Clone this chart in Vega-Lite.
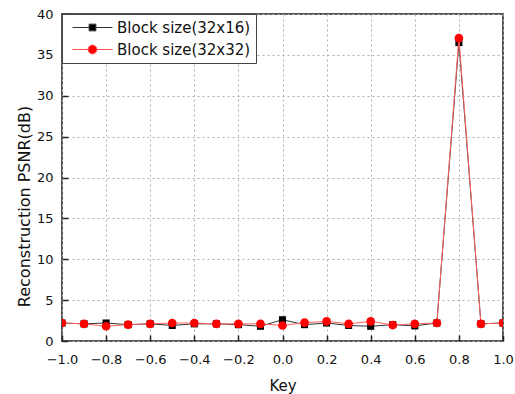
{
  "$schema": "https://vega.github.io/schema/vega-lite/v6.json",
  "autosize": {"type": "none"},
  "padding": {"left": 62, "top": 14, "right": 12, "bottom": 53},
  "width": 441,
  "height": 327,
  "background": "white",
  "config": {
    "font": "DejaVu Sans",
    "view": {"stroke": "#555", "strokeWidth": 2},
    "axis": {
      "grid": true,
      "gridColor": "#b0b0b0",
      "gridDash": [2, 3],
      "gridWidth": 1,
      "domain": false,
      "tickSize": -6,
      "tickColor": "#222",
      "tickWidth": 1.5,
      "labelFont": "DejaVu Sans",
      "labelFontSize": 13,
      "labelColor": "#111",
      "titleFont": "DejaVu Sans",
      "titleFontWeight": "normal",
      "titleColor": "#111"
    },
    "legend": {
      "orient": "none",
      "legendX": 0,
      "legendY": 0,
      "direction": "vertical",
      "padding": 5,
      "strokeColor": "#444",
      "fillColor": "white",
      "labelFontSize": 15,
      "labelFont": "DejaVu Sans",
      "labelColor": "#111",
      "symbolSize": 256,
      "symbolOffset": 17,
      "labelOffset": 16,
      "rowPadding": 5,
      "symbolStrokeWidth": 1
    }
  },
  "data": {
    "values": [
      {"key": -1.0, "psnr": 2.2, "series": "Block size(32x16)"},
      {"key": -0.9, "psnr": 2.1, "series": "Block size(32x16)"},
      {"key": -0.8, "psnr": 2.2, "series": "Block size(32x16)"},
      {"key": -0.7, "psnr": 2.0, "series": "Block size(32x16)"},
      {"key": -0.6, "psnr": 2.1, "series": "Block size(32x16)"},
      {"key": -0.5, "psnr": 1.9, "series": "Block size(32x16)"},
      {"key": -0.4, "psnr": 2.1, "series": "Block size(32x16)"},
      {"key": -0.3, "psnr": 2.1, "series": "Block size(32x16)"},
      {"key": -0.2, "psnr": 2.0, "series": "Block size(32x16)"},
      {"key": -0.1, "psnr": 1.8, "series": "Block size(32x16)"},
      {"key": 0.0, "psnr": 2.6, "series": "Block size(32x16)"},
      {"key": 0.1, "psnr": 2.0, "series": "Block size(32x16)"},
      {"key": 0.2, "psnr": 2.2, "series": "Block size(32x16)"},
      {"key": 0.3, "psnr": 1.9, "series": "Block size(32x16)"},
      {"key": 0.4, "psnr": 1.8, "series": "Block size(32x16)"},
      {"key": 0.5, "psnr": 2.0, "series": "Block size(32x16)"},
      {"key": 0.6, "psnr": 1.85, "series": "Block size(32x16)"},
      {"key": 0.7, "psnr": 2.2, "series": "Block size(32x16)"},
      {"key": 0.8, "psnr": 36.5, "series": "Block size(32x16)"},
      {"key": 0.9, "psnr": 2.1, "series": "Block size(32x16)"},
      {"key": 1.0, "psnr": 2.2, "series": "Block size(32x16)"},
      {"key": -1.0, "psnr": 2.2, "series": "Block size(32x32)"},
      {"key": -0.9, "psnr": 2.1, "series": "Block size(32x32)"},
      {"key": -0.8, "psnr": 1.8, "series": "Block size(32x32)"},
      {"key": -0.7, "psnr": 2.0, "series": "Block size(32x32)"},
      {"key": -0.6, "psnr": 2.1, "series": "Block size(32x32)"},
      {"key": -0.5, "psnr": 2.2, "series": "Block size(32x32)"},
      {"key": -0.4, "psnr": 2.2, "series": "Block size(32x32)"},
      {"key": -0.3, "psnr": 2.1, "series": "Block size(32x32)"},
      {"key": -0.2, "psnr": 2.1, "series": "Block size(32x32)"},
      {"key": -0.1, "psnr": 2.1, "series": "Block size(32x32)"},
      {"key": 0.0, "psnr": 1.9, "series": "Block size(32x32)"},
      {"key": 0.1, "psnr": 2.25, "series": "Block size(32x32)"},
      {"key": 0.2, "psnr": 2.4, "series": "Block size(32x32)"},
      {"key": 0.3, "psnr": 2.1, "series": "Block size(32x32)"},
      {"key": 0.4, "psnr": 2.4, "series": "Block size(32x32)"},
      {"key": 0.5, "psnr": 1.95, "series": "Block size(32x32)"},
      {"key": 0.6, "psnr": 2.1, "series": "Block size(32x32)"},
      {"key": 0.7, "psnr": 2.2, "series": "Block size(32x32)"},
      {"key": 0.8, "psnr": 37.05, "series": "Block size(32x32)"},
      {"key": 0.9, "psnr": 2.1, "series": "Block size(32x32)"},
      {"key": 1.0, "psnr": 2.2, "series": "Block size(32x32)"}
    ]
  },
  "encoding": {
    "x": {
      "field": "key", "type": "quantitative",
      "scale": {"domain": [-1, 1], "nice": false, "zero": false},
      "axis": {"values": [-1, -0.8, -0.6, -0.4, -0.2, 0, 0.2, 0.4, 0.6, 0.8, 1], "format": ".1f", "labelPadding": 18, "title": "Key", "titleFontSize": 15, "titleY": 49, "titleBaseline": "alphabetic", "labelFlush": false}
    },
    "y": {
      "field": "psnr", "type": "quantitative",
      "scale": {"domain": [0, 40], "nice": false},
      "axis": {"values": [0, 5, 10, 15, 20, 25, 30, 35, 40], "labelPadding": 15, "title": "Reconstruction PSNR(dB)", "titleFontSize": 16, "titleX": -38, "titleY": 192, "titleBaseline": "middle", "titleAngle": -90}
    }
  },
  "layer": [
    {
      "mark": {"type": "line", "strokeWidth": 1, "clip": true, "color": "#333333"},
      "transform": [{"filter": "datum.series === 'Block size(32x16)'"}]
    },
    {
      "mark": {"type": "point", "shape": "square", "filled": true, "size": 50, "opacity": 1, "clip": true, "color": "#000000"},
      "transform": [{"filter": "datum.series === 'Block size(32x16)'"}]
    },
    {
      "mark": {"type": "line", "strokeWidth": 1, "clip": true, "color": "#ff6060"},
      "transform": [{"filter": "datum.series === 'Block size(32x32)'"}]
    },
    {
      "mark": {"type": "point", "shape": "circle", "filled": true, "size": 75, "opacity": 1, "clip": true, "color": "#ff0000"},
      "transform": [{"filter": "datum.series === 'Block size(32x32)'"}]
    },
    {
      "mark": {"type": "point", "filled": true, "opacity": 1, "strokeWidth": 1, "clip": true},
      "transform": [{"filter": "datum.key > 5"}],
      "encoding": {
        "shape": {
          "field": "series", "type": "nominal",
          "scale": {"domain": ["Block size(32x16)", "Block size(32x32)"], "range": ["M-2.5,0H-0.42M0.42,0H2.5M-0.42,-0.42H0.42V0.42H-0.42Z", "M-2.5,0H-0.55M0.55,0H2.5M-0.55,0A0.55,0.55 0 1,0 0.55,0A0.55,0.55 0 1,0 -0.55,0Z"]},
          "legend": {"title": null}
        },
        "fill": {
          "field": "series", "type": "nominal",
          "scale": {"domain": ["Block size(32x16)", "Block size(32x32)"], "range": ["#000000", "#ff0000"]},
          "legend": {"title": null}
        },
        "stroke": {
          "field": "series", "type": "nominal",
          "scale": {"domain": ["Block size(32x16)", "Block size(32x32)"], "range": ["#333333", "#ff5050"]},
          "legend": {"title": null}
        }
      }
    }
  ]
}
